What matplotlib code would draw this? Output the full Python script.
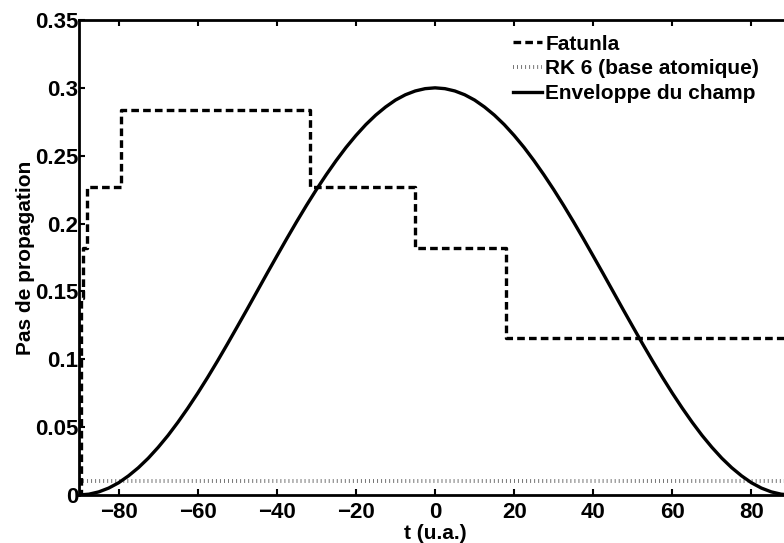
import matplotlib
matplotlib.use('Agg')
import matplotlib.pyplot as plt

plt.rcParams['font.family'] = ['Liberation Sans', 'DejaVu Sans']
plt.rcParams['font.weight'] = 'bold'
plt.rcParams['lines.scale_dashes'] = False

# Fatunla step sizes (edges in t, level on each interval)
fat_t = [-90, -89.5, -89.0, -87.9, -79.5, -31.5, -5, 18, 90]
fat_h = [0.0, 0.145, 0.182, 0.227, 0.284, 0.227, 0.182, 0.116, 0.116]

# RK 6 (base atomique) constant step
rk_t = [-90, 90]
rk_h = [0.01, 0.01]

# field envelope, read every 2.5 u.a.
env_t = [k * 2.5 for k in range(-36, 37)]
env_v = [0.0000, 0.0006, 0.0023, 0.0051, 0.0090, 0.0141, 0.0201, 0.0271,
         0.0351, 0.0439, 0.0536, 0.0640, 0.0750, 0.0866, 0.0987, 0.1112,
         0.1240, 0.1369, 0.1500, 0.1631, 0.1760, 0.1888, 0.2013, 0.2134,
         0.2250, 0.2360, 0.2464, 0.2561, 0.2649, 0.2729, 0.2799, 0.2859,
         0.2910, 0.2949, 0.2977, 0.2994, 0.3000, 0.2994, 0.2977, 0.2949,
         0.2910, 0.2859, 0.2799, 0.2729, 0.2649, 0.2561, 0.2464, 0.2360,
         0.2250, 0.2134, 0.2013, 0.1888, 0.1760, 0.1631, 0.1500, 0.1369,
         0.1240, 0.1112, 0.0987, 0.0866, 0.0750, 0.0640, 0.0536, 0.0439,
         0.0351, 0.0271, 0.0201, 0.0141, 0.0090, 0.0051, 0.0023, 0.0006,
         0.0000]

xticks = [-80, -60, -40, -20, 0, 20, 40, 60, 80]
yticks = [0, 0.05, 0.1, 0.15, 0.2, 0.25, 0.3, 0.35]
ytick_labels = ['0', '0.05', '0.1', '0.15', '0.2', '0.25', '0.3', '0.35']

fig = plt.figure(figsize=(7.84, 5.43), dpi=100)
ax = fig.add_axes([0.1008, 0.0884, 0.9082, 0.8748])

ax.step(fat_t, fat_h, where='post', color='black', linewidth=2.4,
        dashes=(5.5, 3.0), label='Fatunla')
ax.plot(rk_t, rk_h, color='0.45', linewidth=2.8, dashes=(0.7, 2.2),
        label='RK 6 (base atomique)')
ax.plot(env_t, env_v, color='black', linewidth=2.4, label='Enveloppe du champ')

ax.set_xlim(-90, 90)
ax.set_ylim(0, 0.35)
ax.set_xticks(xticks)
ax.set_yticks(yticks)
ax.set_yticklabels(ytick_labels)

for s in ax.spines.values():
    s.set_linewidth(2)
ax.tick_params(direction='in', top=True, right=True, length=4.5, width=1.5,
               labelsize=16)
ax.tick_params(axis='x', pad=5)
ax.tick_params(axis='y', pad=0.5)

ax.set_xlabel('t (u.a.)', fontsize=15, fontweight='bold', labelpad=1)
ax.set_ylabel('Pas de propagation', fontsize=15, fontweight='bold', labelpad=0)

ax.legend(loc='upper left', bbox_to_anchor=(0.6543, 0.936),
          bbox_transform=fig.transFigure, frameon=False, fontsize=15,
          handlelength=1.4, handletextpad=0.15, labelspacing=0.27,
          borderpad=0, borderaxespad=0)

fig.savefig('out.png', dpi=100)
